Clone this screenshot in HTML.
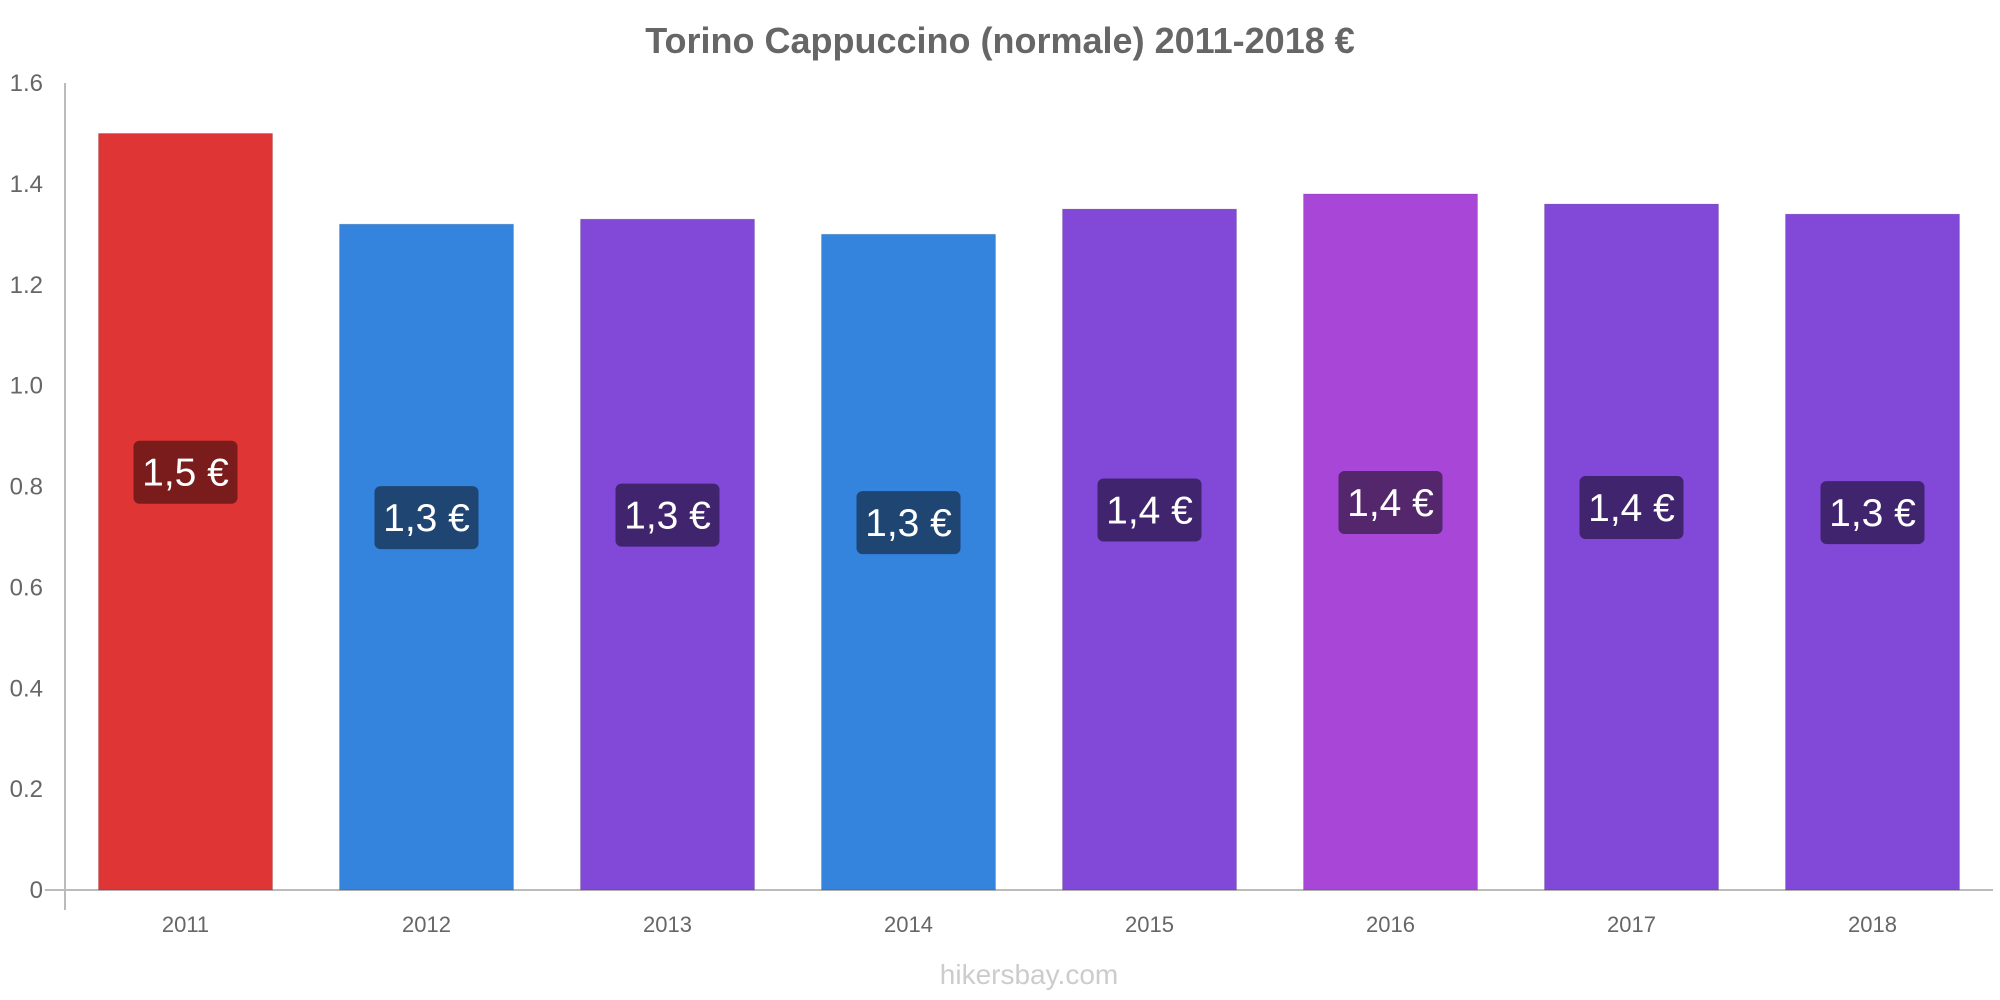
<!DOCTYPE html>
<html><head><meta charset="utf-8"><style>
body{margin:0;background:#fff}
svg{display:block;font-family:"Liberation Sans",sans-serif}
</style></head><body>
<svg id="chart" width="2000" height="1000" viewBox="0 0 2000 1000">
<text x="1000" y="53" text-anchor="middle" font-size="36" font-weight="bold" fill="#666">Torino Cappuccino (normale) 2011-2018 €</text>
<g id="grid"></g><g id="bars"></g>
<text x="1029" y="984" text-anchor="middle" font-size="28" fill="#ccc">hikersbay.com</text>
</svg>
<script>
const categories=["2011","2012","2013","2014","2015","2016","2017","2018"];
const values=[1.5,1.32,1.33,1.30,1.35,1.38,1.36,1.34];
const valueLabels=["1,5 €","1,3 €","1,3 €","1,3 €","1,4 €","1,4 €","1,4 €","1,3 €"];
const colorKinds=["red","blue","purple","blue","purple","magenta","purple","purple"];
const yTicks=[0,0.2,0.4,0.6,0.8,1.0,1.2,1.4,1.6];
const yTickLabels=["0","0.2","0.4","0.6","0.8","1.0","1.2","1.4","1.6"];
const palette={red:["#e03535","#7a1c1c"],blue:["#3483dd","#1f4672"],purple:["#8249d8","#40256e"],magenta:["#a846d8","#54266c"]};
const NS="http://www.w3.org/2000/svg";
const x0=65,band=241,yTop=83,yBottom=890,ymax=1.6,bw=174;
const yScale=v=>yBottom-v/ymax*(yBottom-yTop);
function mk(t,a,p){const e=document.createElementNS(NS,t);for(const k in a)e.setAttribute(k,a[k]);p.appendChild(e);return e;}
const g=document.getElementById('grid'),b=document.getElementById('bars');
let ax=mk('line',{x1:x0,y1:yTop,x2:x0,y2:yBottom+20,stroke:'#bbb','stroke-width':2},g);


let xl=mk('line',{x1:x0-20,y1:yBottom,x2:x0+band*categories.length,y2:yBottom,stroke:'#bbb','stroke-width':2},g);


yTicks.forEach((t,i)=>{const e=mk('text',{x:43,y:yScale(t)+8,'text-anchor':'end','font-size':24,fill:'#666'},g);e.textContent=yTickLabels[i];

});
categories.forEach((c,i)=>{const cx=x0+band*(i+0.5),c2=palette[colorKinds[i]];
const r=mk('rect',{x:cx-bw/2,y:yScale(values[i]),width:bw,height:yBottom-yScale(values[i]),fill:c2[0],stroke:'rgba(0,0,0,0.12)','stroke-width':1},b);


const t=mk('text',{x:cx,y:yBottom+42,'text-anchor':'middle','font-size':22,fill:'#666'},b);t.textContent=c;


const mid=(yScale(values[i])+yBottom)/2-39;
const bx=mk('rect',{x:cx-52,y:mid-32,width:104,height:63,rx:6,fill:c2[1]},b);


const vt=mk('text',{x:cx,y:mid+13,'text-anchor':'middle','font-size':39,fill:'#fff'},b);vt.textContent=valueLabels[i];

});
</script>
</body></html>
